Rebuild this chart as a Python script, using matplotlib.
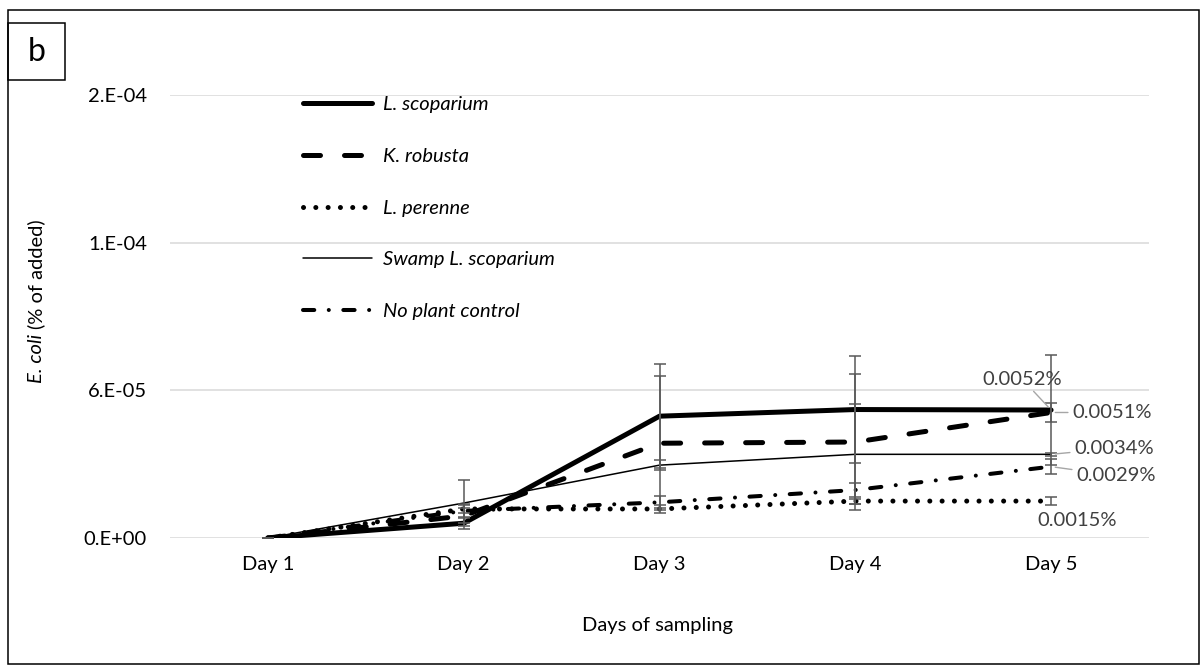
import matplotlib
matplotlib.use("Agg")
from matplotlib import pyplot as plt
from matplotlib.patches import Rectangle

W, H = 1201, 666

days = ["Day 1", "Day 2", "Day 3", "Day 4", "Day 5"]
names = ["L. scoparium", "K. robusta", "L. perenne", "Swamp L. scoparium", "No plant control"]

l_scoparium = [0.0, 0.60e-5, 4.95e-5, 5.22e-5, 5.20e-5]
k_robusta = [0.0, 0.90e-5, 3.85e-5, 3.90e-5, 5.10e-5]
l_perenne = [0.0, 1.18e-5, 1.18e-5, 1.50e-5, 1.50e-5]
swamp = [0.0, 1.42e-5, 2.96e-5, 3.40e-5, 3.40e-5]
no_plant = [0.0, 1.10e-5, 1.45e-5, 1.95e-5, 2.90e-5]

l_scoparium_err = [0.0, 0.25e-5, 2.10e-5, 2.17e-5, 2.25e-5]
k_robusta_err = [0.0, 0.30e-5, 2.72e-5, 2.75e-5, 0.37e-5]
l_perenne_err = [0.0, 0.15e-5, 0.15e-5, 0.10e-5, 0.15e-5]
swamp_err = [0.0, 0.93e-5, 0.20e-5, 2.03e-5, 0.05e-5]
no_plant_err = [0.0, 0.30e-5, 0.25e-5, 0.30e-5, 0.30e-5]

day5_labels = ["0.0052%", "0.0051%", "0.0015%", "0.0034%", "0.0029%"]

y_ticks = [0.0, 6e-5, 1.2e-4, 1.8e-4]
y_ticklabels = ["0.E+00", "6.E-05", "1.E-04", "2.E-04"]

plt.rcParams["font.family"] = ["Lato", "DejaVu Sans"]
FS = 14.5
GRAY = "#404040"

fig = plt.figure(figsize=(W / 100, H / 100), dpi=100)
# plot area in pixels: x 170..1149, y 95..538
ax = fig.add_axes([170 / W, 1 - 538 / H, (1149 - 170) / W, (538 - 95) / H])

x = list(range(len(days)))
values = [l_scoparium, k_robusta, l_perenne, swamp, no_plant]
errs = [l_scoparium_err, k_robusta_err, l_perenne_err, swamp_err, no_plant_err]
styles = [
    dict(lw=3.6, ls="-"),
    dict(lw=3.6, ls=(0, (3.4, 4.8))),
    dict(lw=3.6, ls=(0, (0.01, 2.45))),
    dict(lw=1.1, ls="-"),
    dict(lw=2.9, ls=(0, (2.8, 3.6, 0.01, 3.6))),
]

handles = []
for v, e, st, nm in zip(values, errs, styles, names):
    ln, = ax.plot(x, v, color="black", label=nm, solid_capstyle="round",
                  dash_capstyle="round", zorder=3, **st)
    handles.append(ln)
    ax.errorbar(x, v, yerr=e, fmt="none", ecolor="#595959", elinewidth=1.1,
                capsize=4.3, capthick=1.1, zorder=4)

ax.set_xlim(-0.5, 4.5)
ax.set_ylim(0, 1.8e-4)
ax.set_xticks(x)
ax.set_xticklabels(days, fontsize=FS, color="black")
ax.set_yticks(y_ticks)
ax.set_yticklabels(y_ticklabels, fontsize=FS, color="black")
ax.tick_params(axis="both", length=0)
ax.tick_params(axis="y", pad=16.5)
ax.tick_params(axis="x", pad=13)
ax.grid(axis="y", color="#d9d9d9", lw=1.1)
ax.set_axisbelow(True)
for sp in ax.spines.values():
    sp.set_visible(False)

# labels at day 5: (dx, dy) offsets in pixels, y up
offsets = [(-29, 31), (21, 0), (-14, -19), (23, 6), (25, -9)]
aligns = ["center", "left", "left", "left", "left"]
leaders = [True, True, False, True, True]
for v, lab, (dx, dy), ha, ld in zip(values, day5_labels, offsets, aligns, leaders):
    kw = {}
    if ld:
        kw["arrowprops"] = dict(arrowstyle="-", color="#a6a6a6", lw=1.0,
                                shrinkA=1, shrinkB=3)
    ax.annotate(lab, xy=(4, v[4]), xytext=(dx, dy), textcoords="offset pixels",
                ha=ha, va="center", fontsize=FS, color=GRAY, zorder=5, **kw)

fig.legend(handles=handles, loc="upper left",
           bbox_to_anchor=(303 / W, 1 - 96 / H), frameon=False,
           prop=dict(size=FS, style="italic"), handlelength=3.45,
           handletextpad=0.5, labelspacing=1.72, borderpad=0, borderaxespad=0)

fig.text(658 / W, 1 - 626 / H, "Days of sampling", ha="center", va="center",
         fontsize=FS)

# y axis title: italic part, then plain part above it
renderer = fig.canvas.get_renderer()
t1 = fig.text(36 / W, 1 - 383 / H, "E. coli", rotation=90, ha="center",
              va="bottom", fontsize=FS, style="italic")
bb = t1.get_window_extent(renderer)
fig.text(36 / W, (bb.y1 + 5) / H, "(% of added)", rotation=90, ha="center",
         va="bottom", fontsize=FS)

# outer frame and panel letter box
fig.patches.append(Rectangle((8 / W, 2 / H), (1199 - 8) / W, (656 - 2) / H,
                             transform=fig.transFigure, fill=False,
                             edgecolor="black", lw=1.1))
fig.patches.append(Rectangle((8 / W, 1 - 80 / H), 57 / W, 57 / H,
                             transform=fig.transFigure, fill=False,
                             edgecolor="black", lw=1.1))
fig.text(37 / W, 1 - 52 / H, "b", ha="center", va="center", fontsize=23)

fig.savefig("out.png", dpi=100)
